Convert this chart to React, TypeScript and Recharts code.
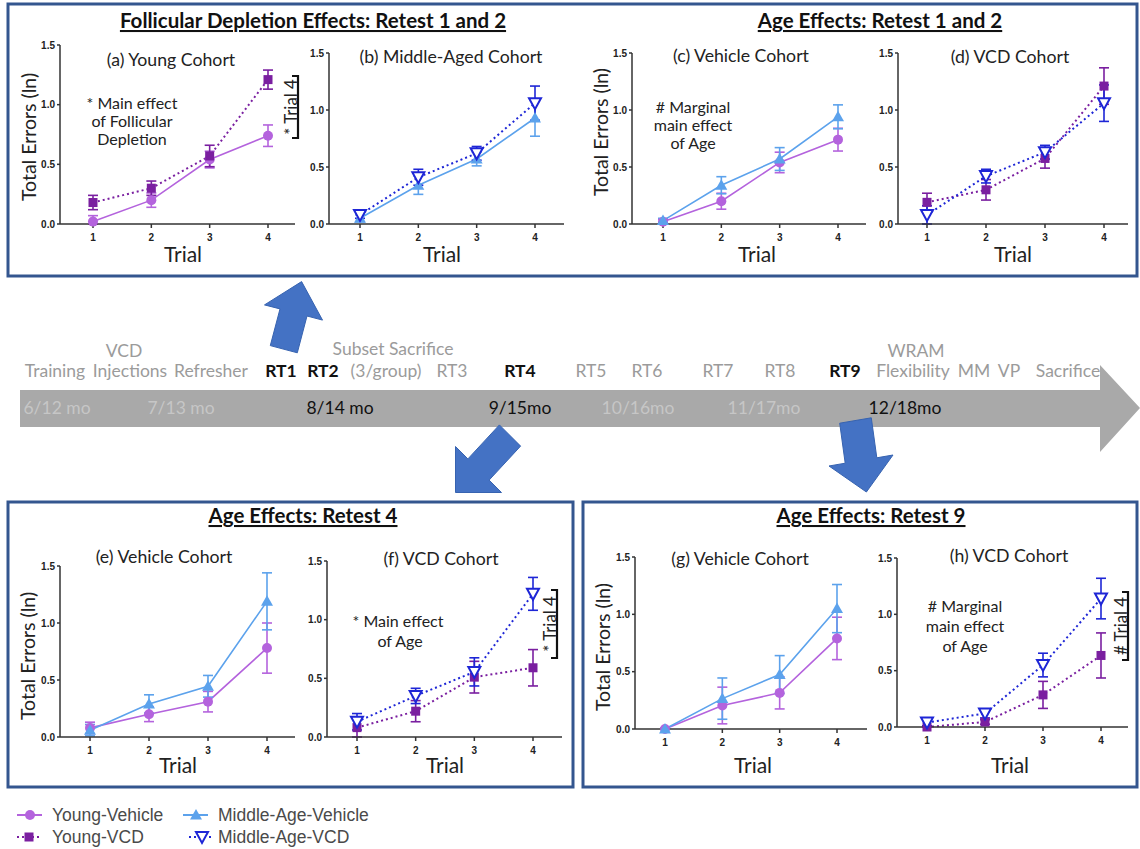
import React from 'react'
import { LineChart, Line, XAxis, YAxis, ErrorBar } from 'recharts'

const TRIALS = [1, 2, 3, 4]
const Y_TICKS = [0, 0.5, 1, 1.5]

// (a) Young cohort, RT1-2
const A_YOUNG_VEH = [0.02, 0.2, 0.54, 0.74]
const A_YOUNG_VEH_SEM = [0.05, 0.06, 0.07, 0.09]
const A_YOUNG_VCD = [0.18, 0.3, 0.57, 1.21]
const A_YOUNG_VCD_SEM = [0.06, 0.06, 0.09, 0.08]
// (b) Middle-aged cohort, RT1-2
const B_MID_VEH = [0.05, 0.34, 0.57, 0.93]
const B_MID_VEH_SEM = [0.03, 0.08, 0.06, 0.16]
const B_MID_VCD = [0.08, 0.41, 0.62, 1.06]
const B_MID_VCD_SEM = [0.03, 0.07, 0.06, 0.15]
// (c) Vehicle cohort, RT1-2
const C_YOUNG_VEH = [0.02, 0.2, 0.54, 0.74]
const C_YOUNG_VEH_SEM = [0.02, 0.07, 0.09, 0.1]
const C_MID_VEH = [0.03, 0.34, 0.57, 0.94]
const C_MID_VEH_SEM = [0.02, 0.075, 0.1, 0.105]
// (d) VCD cohort, RT1-2
const D_YOUNG_VCD = [0.19, 0.3, 0.575, 1.21]
const D_YOUNG_VCD_SEM = [0.08, 0.09, 0.085, 0.16]
const D_MID_VCD = [0.08, 0.42, 0.63, 1.06]
const D_MID_VCD_SEM = [0.08, 0.06, 0.06, 0.16]
// (e) Vehicle cohort, RT4
const E_YOUNG_VEH = [0.08, 0.2, 0.31, 0.78]
const E_YOUNG_VEH_SEM = [0.05, 0.065, 0.09, 0.22]
const E_MID_VEH = [0.06, 0.29, 0.445, 1.19]
const E_MID_VEH_SEM = [0.05, 0.08, 0.095, 0.25]
// (f) VCD cohort, RT4
const F_YOUNG_VCD = [0.08, 0.22, 0.51, 0.59]
const F_YOUNG_VCD_SEM = [0.08, 0.09, 0.135, 0.155]
const F_MID_VCD = [0.13, 0.35, 0.555, 1.22]
const F_MID_VCD_SEM = [0.07, 0.065, 0.12, 0.14]
// (g) Vehicle cohort, RT9
const G_YOUNG_VEH = [0.0, 0.205, 0.315, 0.79]
const G_YOUNG_VEH_SEM = [0.01, 0.16, 0.14, 0.185]
const G_MID_VEH = [0.0, 0.265, 0.475, 1.05]
const G_MID_VEH_SEM = [0.01, 0.18, 0.165, 0.21]
// (h) VCD cohort, RT9
const H_YOUNG_VCD = [0.0, 0.045, 0.285, 0.635]
const H_YOUNG_VCD_SEM = [0.01, 0.02, 0.12, 0.2]
const H_MID_VCD = [0.04, 0.12, 0.55, 1.14]
const H_MID_VCD_SEM = [0.03, 0.04, 0.105, 0.18]

const C_YV = '#B463DD'
const C_YVCD = '#7A1FA0'
const C_MV = '#5CA2EC'
const C_MVCD = '#1E26D6'

const CAL = 'Lato, "Open Sans", sans-serif'
const ARIAL = '"Liberation Sans", Arial, sans-serif'

type Shape = 'circle' | 'square' | 'tri' | 'invtri'

function Marker({ cx, cy, shape, color }: { cx: number; cy: number; shape: Shape; color: string }) {
  if (shape === 'circle') return <circle cx={cx} cy={cy} r={5} fill={color} />
  if (shape === 'square') return <rect x={cx - 4.5} y={cy - 4.5} width={9} height={9} fill={color} />
  if (shape === 'tri')
    return <polygon points={`${cx},${cy - 6} ${cx - 6},${cy + 4.5} ${cx + 6},${cy + 4.5}`} fill={color} />
  return (
    <polygon
      points={`${cx - 6},${cy - 5} ${cx + 6},${cy - 5} ${cx},${cy + 6}`}
      fill="#fff"
      stroke={color}
      strokeWidth={2}
    />
  )
}

type Series = { key: string; mean: number[]; sem: number[]; color: string; dotted: boolean; shape: Shape }
type Geo = { ax: number; axEnd: number; t1: number; t4: number; y15: number; y0: number }

const yv = (mean: number[], sem: number[]): Series => ({ key: 'yv', mean, sem, color: C_YV, dotted: false, shape: 'circle' })
const yvcd = (mean: number[], sem: number[]): Series => ({ key: 'yvcd', mean, sem, color: C_YVCD, dotted: true, shape: 'square' })
const mv = (mean: number[], sem: number[]): Series => ({ key: 'mv', mean, sem, color: C_MV, dotted: false, shape: 'tri' })
const mvcd = (mean: number[], sem: number[]): Series => ({ key: 'mvcd', mean, sem, color: C_MVCD, dotted: true, shape: 'invtri' })

const PANELS: { geo: Geo; series: Series[] }[] = [
  { geo: { ax: 60, axEnd: 295, t1: 93, t4: 268, y15: 45, y0: 224 }, series: [yv(A_YOUNG_VEH, A_YOUNG_VEH_SEM), yvcd(A_YOUNG_VCD, A_YOUNG_VCD_SEM)] },
  { geo: { ax: 329, axEnd: 564, t1: 360, t4: 535, y15: 53, y0: 224 }, series: [mv(B_MID_VEH, B_MID_VEH_SEM), mvcd(B_MID_VCD, B_MID_VCD_SEM)] },
  { geo: { ax: 632, axEnd: 866, t1: 663, t4: 838, y15: 53, y0: 224 }, series: [yv(C_YOUNG_VEH, C_YOUNG_VEH_SEM), mv(C_MID_VEH, C_MID_VEH_SEM)] },
  { geo: { ax: 898, axEnd: 1128, t1: 927, t4: 1104, y15: 53, y0: 224 }, series: [yvcd(D_YOUNG_VCD, D_YOUNG_VCD_SEM), mvcd(D_MID_VCD, D_MID_VCD_SEM)] },
  { geo: { ax: 60, axEnd: 295, t1: 90, t4: 267, y15: 566, y0: 737 }, series: [yv(E_YOUNG_VEH, E_YOUNG_VEH_SEM), mv(E_MID_VEH, E_MID_VEH_SEM)] },
  { geo: { ax: 327, axEnd: 562, t1: 357, t4: 533, y15: 561, y0: 737 }, series: [yvcd(F_YOUNG_VCD, F_YOUNG_VCD_SEM), mvcd(F_MID_VCD, F_MID_VCD_SEM)] },
  { geo: { ax: 635, axEnd: 867, t1: 665, t4: 837, y15: 557, y0: 729 }, series: [yv(G_YOUNG_VEH, G_YOUNG_VEH_SEM), mv(G_MID_VEH, G_MID_VEH_SEM)] },
  { geo: { ax: 897, axEnd: 1128, t1: 927, t4: 1101, y15: 558, y0: 727 }, series: [yvcd(H_YOUNG_VCD, H_YOUNG_VCD_SEM), mvcd(H_MID_VCD, H_MID_VCD_SEM)] },
]

const YW = 34
const XH = 26
const MT = 8
const MR = 8
const tickStyle = { fontSize: 10, fontWeight: 700, fill: '#222', fontFamily: ARIAL }

function Panel({ geo, series }: { geo: Geo; series: Series[] }) {
  const sp = (geo.t4 - geo.t1) / 3
  const d0 = 1 - (geo.t1 - geo.ax) / sp
  const d1 = 4 + (geo.axEnd - geo.t4) / sp
  const width = YW + (geo.axEnd - geo.ax) + MR
  const height = MT + (geo.y0 - geo.y15) + XH
  const data = TRIALS.map((t, i) => {
    const row: Record<string, any> = { trial: t }
    series.forEach((s) => {
      row[s.key] = s.mean[i]
      // bars are cut at the x axis, like in the original plot
      row[s.key + 'Err'] = [Math.min(s.sem[i], s.mean[i]), s.sem[i]]
    })
    return row
  })
  return (
    <div style={{ position: 'absolute', left: geo.ax - YW, top: geo.y15 - MT }}>
      <LineChart width={width} height={height} data={data} margin={{ top: MT, right: MR, bottom: 0, left: 0 }}>
        <XAxis
          dataKey="trial"
          type="number"
          domain={[d0, d1]}
          ticks={TRIALS}
          allowDataOverflow
          height={XH}
          tickSize={4}
          tickMargin={6}
          tick={tickStyle}
          axisLine={{ stroke: '#333', strokeWidth: 1.5 }}
          tickLine={{ stroke: '#333', strokeWidth: 1.5 }}
        />
        <YAxis
          type="number"
          domain={[0, 1.5]}
          ticks={Y_TICKS}
          width={YW}
          tickSize={3}
          tickMargin={2}
          tick={tickStyle}
          tickFormatter={(v: number) => v.toFixed(1)}
          axisLine={{ stroke: '#333', strokeWidth: 1.5 }}
          tickLine={{ stroke: '#333', strokeWidth: 1.5 }}
        />
        {series.map((s) => (
          <Line
            key={s.key}
            dataKey={s.key}
            type="linear"
            stroke={s.color}
            strokeWidth={s.dotted ? 2 : 1.6}
            strokeDasharray={s.dotted ? '2 3' : undefined}
            isAnimationActive={false}
            dot={(p: any) => <Marker key={p.index} cx={p.cx} cy={p.cy} shape={s.shape} color={s.color} />}
          >
            <ErrorBar dataKey={s.key + 'Err'} width={5} stroke={s.color} strokeWidth={1.6} direction="y" />
          </Line>
        ))}
      </LineChart>
    </div>
  )
}

const ABOVE = [
  { t: 'Training', x: 55, y: 377 },
  { t: 'VCD', x: 124, y: 357 },
  { t: 'Injections', x: 130, y: 377 },
  { t: 'Refresher', x: 211, y: 377 },
  { t: 'RT1', x: 281, y: 377, b: true },
  { t: 'RT2', x: 323, y: 377, b: true },
  { t: 'Subset Sacrifice', x: 393, y: 355 },
  { t: '(3/group)', x: 386, y: 377 },
  { t: 'RT3', x: 452, y: 377 },
  { t: 'RT4', x: 520, y: 377, b: true },
  { t: 'RT5', x: 591, y: 377 },
  { t: 'RT6', x: 647, y: 377 },
  { t: 'RT7', x: 718, y: 377 },
  { t: 'RT8', x: 780, y: 377 },
  { t: 'RT9', x: 845, y: 377, b: true },
  { t: 'WRAM', x: 916, y: 357 },
  { t: 'Flexibility', x: 913, y: 377 },
  { t: 'MM', x: 974, y: 377 },
  { t: 'VP', x: 1009, y: 377 },
  { t: 'Sacrifice', x: 1068, y: 377 },
]
const BAND = [
  { t: '6/12 mo', x: 57, dark: false },
  { t: '7/13 mo', x: 181, dark: false },
  { t: '8/14 mo', x: 340, dark: true },
  { t: '9/15mo', x: 520, dark: true },
  { t: '10/16mo', x: 638, dark: false },
  { t: '11/17mo', x: 764, dark: false },
  { t: '12/18mo', x: 905, dark: true },
]

const pts = (a: number[][]) => a.map((p) => p.join(',')).join(' ')

function Overlay() {
  const boxStroke = '#34568F'
  const title = { fontFamily: CAL, fontWeight: 700, fontSize: 20.5, fill: '#111', textDecoration: 'underline' } as const
  const sub = { fontFamily: CAL, fontSize: 17.7, fill: '#222' } as const
  const note = { fontFamily: CAL, fontSize: 16, fill: '#222' } as const
  const ylab = { fontFamily: CAL, fontSize: 19.5, fill: '#222' } as const
  const trial = { fontFamily: CAL, fontSize: 21, fill: '#222' } as const
  const arrowFill = '#4472C4'
  const arrowStroke = '#3763B0'
  const bracket = (x: number, y1: number, y2: number, label: string, tx: number) => (
    <g>
      <polyline points={`${x - 6},${y1} ${x},${y1} ${x},${y2} ${x - 6},${y2}`} fill="none" stroke="#111" strokeWidth={2.2} />
      <text x={tx} y={(y1 + y2) / 2} transform={`rotate(-90 ${tx} ${(y1 + y2) / 2})`} textAnchor="middle" dominantBaseline="central" style={{ ...note, fontSize: 16.8 }}>
        {label}
      </text>
    </g>
  )
  return (
    <svg width={1140} height={849} style={{ position: 'absolute', left: 0, top: 0, pointerEvents: 'none' }}>
      <rect x={8} y={4} width={1129} height={272} fill="none" stroke={boxStroke} strokeWidth={3} />
      <rect x={8} y={502} width={565} height={285} fill="none" stroke={boxStroke} strokeWidth={3} />
      <rect x={583} y={502} width={554} height={285} fill="none" stroke={boxStroke} strokeWidth={3} />

      <text x={313} y={28} textAnchor="middle" style={title}>Follicular Depletion Effects: Retest 1 and 2</text>
      <text x={880} y={28} textAnchor="middle" style={title}>Age Effects: Retest 1 and 2</text>
      <text x={303} y={523} textAnchor="middle" style={title}>Age Effects: Retest 4</text>
      <text x={871} y={523} textAnchor="middle" style={title}>Age Effects: Retest 9</text>

      <text x={171} y={66} textAnchor="middle" style={sub}>(a) Young Cohort</text>
      <text x={451} y={63} textAnchor="middle" style={sub}>(b) Middle-Aged Cohort</text>
      <text x={741} y={62} textAnchor="middle" style={sub}>(c) Vehicle Cohort</text>
      <text x={1010} y={63} textAnchor="middle" style={sub}>(d) VCD Cohort</text>
      <text x={164} y={563} textAnchor="middle" style={sub}>(e) Vehicle Cohort</text>
      <text x={441} y={565} textAnchor="middle" style={sub}>(f) VCD Cohort</text>
      <text x={740} y={565} textAnchor="middle" style={sub}>(g) Vehicle Cohort</text>
      <text x={1009} y={562} textAnchor="middle" style={sub}>(h) VCD Cohort</text>

      {[
        [28, 137],
        [600, 132],
        [27, 656],
        [602, 647],
      ].map(([x, y], i) => (
        <text key={i} x={x} y={y} transform={`rotate(-90 ${x} ${y})`} textAnchor="middle" dominantBaseline="central" style={ylab}>
          Total Errors (ln)
        </text>
      ))}
      {[
        [183, 262],
        [442, 262],
        [757, 262],
        [1013, 262],
        [178, 773],
        [445, 773],
        [753, 773],
        [1010, 773],
      ].map(([x, y], i) => (
        <text key={i} x={x} y={y} textAnchor="middle" style={trial}>Trial</text>
      ))}

      <text textAnchor="middle" style={note}>
        <tspan x={132} y={109}>* Main effect</tspan>
        <tspan x={132} y={127}>of Follicular</tspan>
        <tspan x={132} y={145}>Depletion</tspan>
      </text>
      <text textAnchor="middle" style={note}>
        <tspan x={693} y={113}># Marginal</tspan>
        <tspan x={693} y={131}>main effect</tspan>
        <tspan x={693} y={149}>of Age</tspan>
      </text>
      <text textAnchor="middle" style={note}>
        <tspan x={398} y={627}>* Main effect</tspan>
        <tspan x={400} y={647}>of Age</tspan>
      </text>
      <text textAnchor="middle" style={note}>
        <tspan x={965} y={612}># Marginal</tspan>
        <tspan x={965} y={632}>main effect</tspan>
        <tspan x={965} y={652}>of Age</tspan>
      </text>
      {bracket(298, 76, 138, '* Trial 4', 290)}
      {bracket(557, 590, 658, '* Trial 4', 549)}
      {bracket(1128, 592, 660, '# Trial 4', 1120)}

      {/* timeline */}
      <polygon points={pts([[20, 390], [1100, 390], [1100, 365], [1140, 408], [1100, 452], [1100, 427], [20, 427]])} fill="#A9A9A9" />
      {ABOVE.map((l, i) => (
        <text key={i} x={l.x} y={l.y} textAnchor="middle" style={{ fontFamily: CAL, fontSize: 17.5, fill: l.b ? '#111' : '#9B9B9B', fontWeight: l.b ? 700 : 400 }}>
          {l.t}
        </text>
      ))}
      {BAND.map((l, i) => (
        <text key={i} x={l.x} y={414} textAnchor="middle" style={{ fontFamily: CAL, fontSize: 17.5, fill: l.dark ? '#111' : '#C6C6C6' }}>
          {l.t}
        </text>
      ))}

      {/* blue arrows */}
      <polygon
        points={pts([[270.3, 345.6], [297.3, 352.8], [307, 316], [322.5, 320.1], [301.6, 281.6], [264.5, 304.9], [280, 308.9]])}
        fill={arrowFill}
        stroke={arrowStroke}
      />
      <polygon
        points={pts([[499.4, 424.9], [520.6, 446.1], [489.1, 480.1], [501.5, 492.5], [455.5, 492.5], [455.5, 446.5], [467.9, 458.9]])}
        fill={arrowFill}
        stroke={arrowStroke}
      />
      <polygon
        points={pts([[839.7, 423.2], [871.3, 417.8], [876.8, 457.8], [893, 455], [866.4, 492], [829, 466], [845.2, 463.2]])}
        fill={arrowFill}
        stroke={arrowStroke}
      />

      {/* legend */}
      <g style={{ fontFamily: ARIAL, fontSize: 17.5, fill: '#4A4A4A' }}>
        <line x1={17} y1={815} x2={42} y2={815} stroke={C_YV} strokeWidth={2} />
        <Marker cx={30} cy={815} shape="circle" color={C_YV} />
        <text x={52} y={821}>Young-Vehicle</text>
        <line x1={17} y1={837} x2={42} y2={837} stroke={C_YVCD} strokeWidth={2} strokeDasharray="2 3" />
        <Marker cx={29} cy={837} shape="square" color={C_YVCD} />
        <text x={52} y={843}>Young-VCD</text>
        <line x1={183} y1={815} x2={208} y2={815} stroke={C_MV} strokeWidth={2} />
        <Marker cx={196} cy={815} shape="tri" color={C_MV} />
        <text x={218} y={821}>Middle-Age-Vehicle</text>
        <line x1={189} y1={837} x2={214} y2={837} stroke={C_MVCD} strokeWidth={2} strokeDasharray="2 3" />
        <Marker cx={202} cy={837} shape="invtri" color={C_MVCD} />
        <text x={218} y={843}>Middle-Age-VCD</text>
      </g>
    </svg>
  )
}

export default function App() {
  return (
    <div style={{ position: 'absolute', left: 0, top: 0, width: 1140, height: 849, background: '#fff', overflow: 'hidden' }}>
      {PANELS.map((p, i) => (
        <Panel key={i} geo={p.geo} series={p.series} />
      ))}
      <Overlay />
    </div>
  )
}
